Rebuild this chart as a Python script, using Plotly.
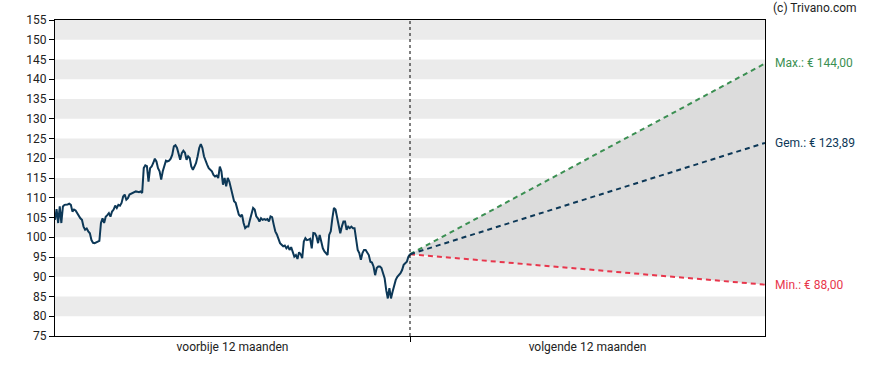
import numpy as np
import plotly.graph_objects as go

# ---- data ----
history = [
    104.4, 107.1, 103.6, 107.8, 103.6, 107.8, 108.2, 108.2, 108.3, 108.5, 108.2, 106.5, 107.0, 106.8, 106.1,
    105.2, 104.8, 104.4, 102.7, 101.9, 102.2, 101.5, 101.0, 99.3, 98.6, 98.5, 98.7, 98.9, 99.1, 103.6,
    104.8, 103.6, 105.2, 105.6, 106.1, 105.2, 106.5, 107.0, 108.0, 107.4, 108.2, 108.0, 108.7, 110.3, 110.8,
    109.5, 109.9, 110.8, 111.0, 111.2, 111.2, 111.6, 111.5, 111.4, 111.6,
    111.2, 117.5, 118.2, 118.0, 114.1, 117.5, 117.9, 118.8, 119.9, 119.2, 117.5, 116.7, 114.6, 116.7, 118.4,
    119.4, 119.2, 119.4, 119.9, 120.9, 123.0, 123.3, 122.6, 121.3, 119.6, 121.3, 121.9, 121.4, 119.6, 120.5,
    120.1, 117.9, 117.1, 117.9, 118.8, 120.5, 122.6, 123.6, 122.6, 120.5, 119.2, 118.4, 117.5, 117.2, 116.7,
    115.8, 115.4, 115.6, 115.0, 117.9,
    116.7, 113.3, 115.0, 112.9, 115.0, 114.1, 112.5, 110.8, 109.1, 108.7, 107.0, 105.7, 105.3, 105.7, 103.6,
    102.3, 102.7, 102.7, 104.4, 105.7, 107.4, 107.0, 105.3, 104.8, 104.0, 104.8, 104.4, 104.6, 104.4, 104.6,
    104.0, 105.3, 105.1, 103.2, 101.5, 100.7, 99.8, 98.5, 98.1, 97.7, 97.9, 97.2, 97.7, 96.8, 97.5,
    96.0, 95.1, 95.5, 94.5, 96.2, 95.7, 94.7, 98.9, 99.8, 99.3, 99.4, 99.6, 97.2, 101.1,
    101.0, 100.2, 98.5, 100.6, 98.9, 97.2, 96.4, 96.0, 95.5, 100.6, 101.5, 104.8, 107.4, 107.0, 104.8,
    103.2, 101.0, 102.7, 104.0, 104.0, 101.9, 102.7, 102.3, 102.7, 102.3, 102.3, 99.8, 96.8, 96.0, 94.3,
    96.0, 96.8, 96.8, 96.0, 95.5, 93.8, 93.6, 92.6, 90.4, 92.2, 92.6, 92.6, 92.2, 90.9, 89.6,
    86.6, 84.5, 87.1, 84.5, 86.2, 87.9, 89.2, 90.0, 90.4, 90.9, 91.7, 93.0, 93.4, 93.8, 95.1, 95.7,
]
forecast_start = 95.7
forecast_max = 144.00
forecast_avg = 123.89
forecast_min = 88.00
period_labels = ["voorbije 12 maanden", "volgende 12 maanden"]
y_ticks = list(range(75, 156, 5))
band_starts = [80, 90, 100, 110, 120, 130, 140, 150]

# ---- figure ----
NAVY = "#0d3857"
GREEN = "#3b8f52"
RED = "#e8364c"
FONT = "Roboto"

x_hist = np.linspace(0, 1, len(history))
x_fc = [1, 2]

fig = go.Figure()

fig.add_trace(go.Scatter(x=x_fc, y=[forecast_start, forecast_min], mode="lines",
                         line=dict(color=RED, width=2, dash="5px,4px"), hoverinfo="skip"))
fig.add_trace(go.Scatter(x=x_fc, y=[forecast_start, forecast_max], mode="lines",
                         line=dict(color=GREEN, width=2, dash="5px,4px"),
                         fill="tonexty", fillcolor="#dcdcdc", hoverinfo="skip"))
fig.add_trace(go.Scatter(x=x_fc, y=[forecast_start, forecast_avg], mode="lines",
                         line=dict(color=NAVY, width=2, dash="5px,4px"), hoverinfo="skip"))
fig.add_trace(go.Scatter(x=x_hist, y=history, mode="lines",
                         line=dict(color=NAVY, width=2), hoverinfo="skip"))

shapes = []
for b in band_starts:
    shapes.append(dict(type="rect", xref="paper", yref="y", x0=0, x1=1, y0=b, y1=b + 5,
                       fillcolor="#ebebeb", line=dict(width=0), layer="below"))
shapes.append(dict(type="line", xref="x", yref="paper", x0=1, x1=1, y0=0, y1=1,
                   line=dict(color="black", width=1, dash="dot")))

annotations = [
    dict(x=1, y=forecast_max, xref="paper", yref="y", xanchor="left", xshift=8,
         text="Max.: € 144,00", showarrow=False, font=dict(color=GREEN, size=12, family=FONT)),
    dict(x=1, y=forecast_avg, xref="paper", yref="y", xanchor="left", xshift=8,
         text="Gem.: € 123,89", showarrow=False, font=dict(color=NAVY, size=12, family=FONT)),
    dict(x=1, y=forecast_min, xref="paper", yref="y", xanchor="left", xshift=8,
         text="Min.: € 88,00", showarrow=False, font=dict(color=RED, size=12, family=FONT)),
    dict(x=1, y=1, xref="paper", yref="paper", xanchor="left", yanchor="bottom", xshift=6, yshift=3,
         text="(c) Trivano.com", showarrow=False, font=dict(color="#222222", size=12, family=FONT)),
]

fig.update_layout(
    width=888, height=370,
    margin=dict(l=55, r=123, t=20, b=34, autoexpand=False),
    paper_bgcolor="white", plot_bgcolor="white",
    showlegend=False,
    font=dict(family=FONT, size=12, color="#222222"),
    shapes=shapes, annotations=annotations,
    xaxis=dict(range=[0, 2], tickvals=[0.5, 1.5], ticktext=period_labels, ticks="",
               showgrid=False, zeroline=False, showline=True, linecolor="black", linewidth=1,
               mirror=True, fixedrange=True, automargin=False,
               minor=dict(tickvals=[1], ticks="outside", ticklen=5, tickcolor="black", showgrid=False),
               tickfont=dict(size=12, family=FONT, color="#222222")),
    yaxis=dict(range=[75, 155], tickvals=y_ticks, ticks="outside", ticklen=5, tickcolor="black",
               showgrid=False, zeroline=False, showline=True, linecolor="black", linewidth=1,
               mirror=True, fixedrange=True, automargin=False,
               tickfont=dict(size=12, family=FONT, color="#222222")),
)

# remove the default page margin so the figure fills the window exactly
fig.write_html("out.html", config={"displayModeBar": False},
               post_script="document.body.style.margin='0';document.body.style.overflow='hidden';")
